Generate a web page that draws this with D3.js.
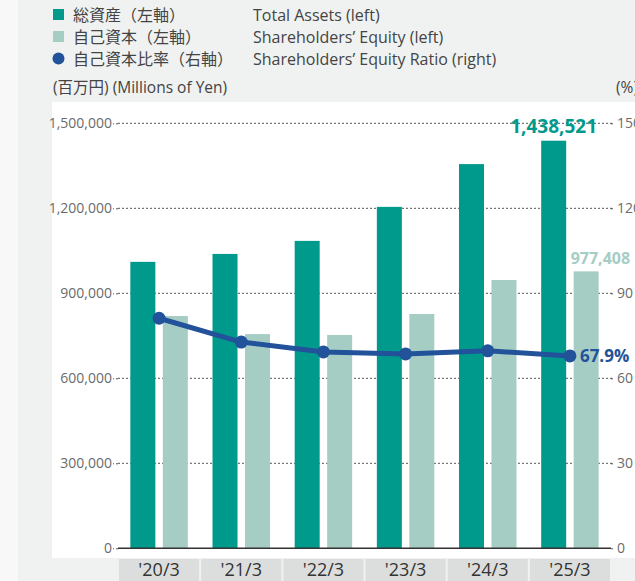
<!DOCTYPE html>
<html>
<head>
<meta charset="utf-8">
<script src="https://cdn.jsdelivr.net/npm/d3@7"></script>
<style>
  body { margin: 0; background: #f0f2f1; }
  svg { display: block; font-family: "Open Sans", "Noto Sans CJK JP", sans-serif; }
</style>
</head>
<body>
<svg id="chart" width="635" height="581"></svg>
<script>
(() => {
  const categories = ["'20/3", "'21/3", "'22/3", "'23/3", "'24/3", "'25/3"];
  const totalAssets = [1011000, 1039000, 1085000, 1205000, 1356000, 1438521];
  const equity = [820000, 756000, 753000, 827000, 947000, 977408];
  const equityRatio = [81.2, 72.8, 69.3, 68.6, 69.7, 67.9];
  const leftTicks = [0, 300000, 600000, 900000, 1200000, 1500000];
  const rightTicks = [0, 30, 60, 90, 120, 150];

  const legendJa = ["総資産（左軸）", "自己資本（左軸）", "自己資本比率（右軸）"];
  const legendEn = ["Total Assets (left)", "Shareholders’ Equity (left)", "Shareholders’ Equity Ratio (right)"];

  const colors = { assets: "#009a8c", equity: "#a6cdc4", ratio: "#22529a" };

  const W = 635, H = 581;
  const plot = { left: 118, right: 611, top: 123.3, bottom: 548.3 };

  const svg = d3.select("#chart");

  // page background panels
  svg.append("rect").attr("x", 0).attr("y", 0).attr("width", 18).attr("height", H).attr("fill", "#f7f8f7");
  svg.append("rect").attr("x", 52).attr("y", 102).attr("width", W - 52).attr("height", 456).attr("fill", "#fff");

  // scales
  const x = d3.scaleBand().domain(categories).range([plot.left, plot.right]);
  const xSub = d3.scaleBand().domain(["assets", "equity"]).range([0, x.bandwidth()])
    .paddingInner(0.23).paddingOuter(0.38);
  const yLeft = d3.scaleLinear().domain([0, 1500000]).range([plot.bottom, plot.top]);
  const yRight = d3.scaleLinear().domain([0, 150]).range([plot.bottom, plot.top]);

  // gridlines
  svg.append("g")
    .selectAll("line")
    .data(leftTicks.filter(d => d > 0))
    .enter().append("line")
    .attr("x1", plot.left).attr("x2", plot.right + 2)
    .attr("y1", d => yLeft(d)).attr("y2", d => yLeft(d))
    .attr("stroke", "#555").attr("stroke-width", 1)
    .attr("stroke-dasharray", "2,2");

  // bars
  const groups = svg.append("g").selectAll("g")
    .data(categories)
    .enter().append("g")
    .attr("transform", d => `translate(${x(d)},0)`);

  groups.append("rect")
    .attr("x", xSub("assets"))
    .attr("width", xSub.bandwidth())
    .attr("y", (d, i) => yLeft(totalAssets[i]))
    .attr("height", (d, i) => plot.bottom - yLeft(totalAssets[i]))
    .attr("fill", colors.assets);

  groups.append("rect")
    .attr("x", xSub("equity"))
    .attr("width", xSub.bandwidth())
    .attr("y", (d, i) => yLeft(equity[i]))
    .attr("height", (d, i) => plot.bottom - yLeft(equity[i]))
    .attr("fill", colors.equity);

  // left axis
  const leftAxis = svg.append("g")
    .attr("transform", `translate(${plot.left},0)`)
    .call(d3.axisLeft(yLeft).tickValues(leftTicks).tickSize(5).tickPadding(1)
      .tickFormat(d3.format(",")));
  leftAxis.select(".domain").remove();
  leftAxis.selectAll(".tick line").attr("stroke", "#555").attr("stroke-dasharray", "2,2");
  leftAxis.selectAll("text").attr("fill", "#6b6b6b").style("font-size", "14px").style("font-family", "Open Sans");

  // right axis
  const rightAxis = svg.append("g")
    .attr("transform", `translate(${plot.right},0)`)
    .call(d3.axisRight(yRight).tickValues(rightTicks).tickSize(2).tickPadding(4));
  rightAxis.select(".domain").remove();
  rightAxis.selectAll(".tick line").attr("stroke", "#555");
  rightAxis.selectAll("text").attr("fill", "#6b6b6b").style("font-size", "14px").style("font-family", "Open Sans");

  // baseline
  svg.append("line")
    .attr("x1", plot.left).attr("x2", plot.right)
    .attr("y1", yLeft(0)).attr("y2", yLeft(0))
    .attr("stroke", "#333").attr("stroke-width", 1.5);

  // category label boxes
  const catG = svg.append("g").selectAll("g")
    .data(categories)
    .enter().append("g")
    .attr("transform", d => `translate(${x(d)},0)`);
  catG.append("rect")
    .attr("x", 1).attr("y", 559)
    .attr("width", x.bandwidth() - 2).attr("height", 24)
    .attr("fill", "#dcdedd");
  catG.append("text")
    .attr("x", x.bandwidth() / 2).attr("y", 575.5)
    .attr("text-anchor", "middle")
    .attr("fill", "#333")
    .style("font-size", "18px")
    .text(d => d);

  // equity ratio line
  const line = d3.line()
    .x((d, i) => x(categories[i]) + x.bandwidth() / 2)
    .y(d => yRight(d));
  svg.append("path")
    .datum(equityRatio)
    .attr("d", line)
    .attr("fill", "none")
    .attr("stroke", colors.ratio)
    .attr("stroke-width", 5)
    .attr("stroke-linejoin", "round");
  svg.append("g").selectAll("circle")
    .data(equityRatio)
    .enter().append("circle")
    .attr("cx", (d, i) => x(categories[i]) + x.bandwidth() / 2)
    .attr("cy", d => yRight(d))
    .attr("r", 6.5)
    .attr("fill", colors.ratio);

  // value labels for the last year
  const last = categories.length - 1;
  const lastX = x(categories[last]);
  svg.append("text")
    .attr("x", lastX + xSub("assets") + xSub.bandwidth() / 2)
    .attr("y", yLeft(totalAssets[last]) - 8)
    .attr("text-anchor", "middle")
    .attr("fill", colors.assets)
    .style("font-size", "19px").style("font-weight", "bold")
    .text(d3.format(",")(totalAssets[last]));
  svg.append("text")
    .attr("x", lastX + xSub("equity") - 3)
    .attr("y", yLeft(equity[last]) - 7)
    .attr("fill", colors.equity)
    .style("font-size", "16px").style("font-weight", "bold")
    .text(d3.format(",")(equity[last]));
  svg.append("text")
    .attr("x", lastX + x.bandwidth() / 2 + 10)
    .attr("y", yRight(equityRatio[last]) + 6)
    .attr("fill", colors.ratio)
    .style("font-size", "17px").style("font-weight", "bold")
    .text(equityRatio[last].toFixed(1) + "%");

  // legend
  const legend = svg.append("g");
  legendJa.forEach((t, i) => {
    const cy = 14.5 + i * 22;
    if (i < 2) {
      legend.append("rect")
        .attr("x", 53).attr("y", cy - 5.5)
        .attr("width", 11).attr("height", 11)
        .attr("fill", i === 0 ? colors.assets : colors.equity);
    } else {
      legend.append("circle")
        .attr("cx", 58.5).attr("cy", cy).attr("r", 6)
        .attr("fill", colors.ratio);
    }
    legend.append("text")
      .attr("x", 73).attr("y", cy + 6)
      .attr("fill", "#444")
      .style("font-size", "16px")
      .style("font-family", "Noto Sans CJK JP")
      .text(t);
    legend.append("text")
      .attr("x", 253).attr("y", cy + 6)
      .attr("fill", "#444")
      .style("font-size", "16px")
      .text(legendEn[i]);
  });

  // unit labels
  svg.append("text")
    .attr("x", 53).attr("y", 93)
    .attr("fill", "#444")
    .style("font-size", "15.5px")
    .text("(百万円) (Millions of Yen)");
  svg.append("text")
    .attr("x", 616).attr("y", 93)
    .attr("fill", "#444")
    .style("font-size", "15.5px")
    .text("(%)");
})();
</script>
</body>
</html>
